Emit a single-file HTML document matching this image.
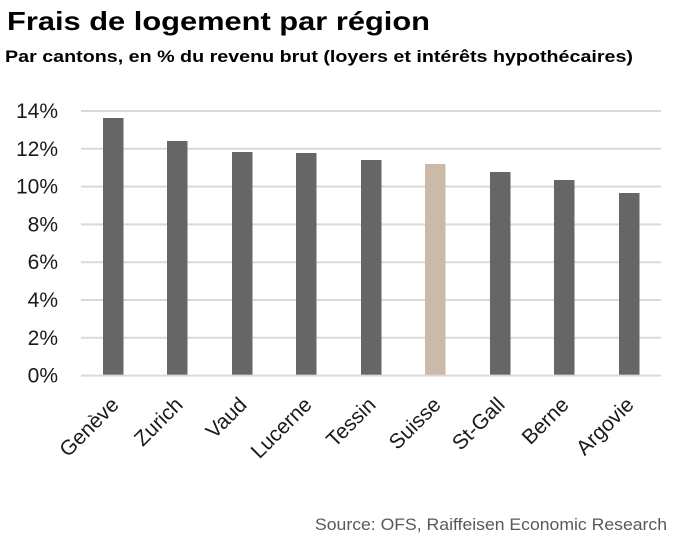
<!DOCTYPE html>
<html>
<head>
<meta charset="utf-8">
<style>
  html, body { margin: 0; padding: 0; background: #ffffff; }
  body { width: 673px; height: 536px; overflow: hidden; }
  svg { display: block; }
  text { font-family: "Liberation Sans", Arial, sans-serif; }
</style>
</head>
<body>
<svg width="673" height="536" viewBox="0 0 673 536" xmlns="http://www.w3.org/2000/svg">
  <rect x="0" y="0" width="673" height="536" fill="#ffffff"/>

  <!-- Title -->
  <text x="7" y="30" font-size="26" font-weight="bold" fill="#000" textLength="423" lengthAdjust="spacingAndGlyphs">Frais de logement par région</text>
  <!-- Subtitle -->
  <text x="5" y="62" font-size="17" font-weight="bold" fill="#000" textLength="628" lengthAdjust="spacingAndGlyphs">Par cantons, en % du revenu brut (loyers et intérêts hypothécaires)</text>

  <!-- Gridlines -->
  <g stroke="#d9d9d9" stroke-width="2">
    <line x1="81" y1="111" x2="661" y2="111"/>
    <line x1="81" y1="148.8" x2="661" y2="148.8"/>
    <line x1="81" y1="186.6" x2="661" y2="186.6"/>
    <line x1="81" y1="224.4" x2="661" y2="224.4"/>
    <line x1="81" y1="262.2" x2="661" y2="262.2"/>
    <line x1="81" y1="300" x2="661" y2="300"/>
    <line x1="81" y1="337.8" x2="661" y2="337.8"/>
  </g>

  <!-- Y labels -->
  <g font-size="21" fill="#1a1a1a" text-anchor="end">
    <text x="58" y="118">14%</text>
    <text x="58" y="155.8">12%</text>
    <text x="58" y="193.6">10%</text>
    <text x="58" y="231.4">8%</text>
    <text x="58" y="269.2">6%</text>
    <text x="58" y="307">4%</text>
    <text x="58" y="344.8">2%</text>
    <text x="58" y="382.6">0%</text>
  </g>

  <!-- Bars -->
  <g fill="#666666">
    <rect x="103" y="118" width="20.5" height="257.5"/>
    <rect x="167" y="141" width="20.5" height="234.5"/>
    <rect x="232" y="152" width="20.5" height="223.5"/>
    <rect x="296" y="153" width="20.5" height="222.5"/>
    <rect x="361" y="160" width="20.5" height="215.5"/>
    <rect x="490" y="172" width="20.5" height="203.5"/>
    <rect x="554" y="180" width="20.5" height="195.5"/>
    <rect x="619" y="193" width="20.5" height="182.5"/>
  </g>
  <rect x="425" y="164" width="20.5" height="211.5" fill="#cbbaa8"/>

  <!-- Axis line -->
  <line x1="81" y1="375.6" x2="661" y2="375.6" stroke="#d9d9d9" stroke-width="2"/>

  <!-- X labels -->
  <g font-size="21" fill="#1a1a1a" text-anchor="end">
    <text x="120" y="406" transform="rotate(-45 120 406)">Genève</text>
    <text x="184" y="406" transform="rotate(-45 184 406)">Zurich</text>
    <text x="248" y="406" transform="rotate(-45 248 406)">Vaud</text>
    <text x="313" y="406" transform="rotate(-45 313 406)">Lucerne</text>
    <text x="377" y="406" transform="rotate(-45 377 406)">Tessin</text>
    <text x="442" y="406" transform="rotate(-45 442 406)">Suisse</text>
    <text x="506" y="406" transform="rotate(-45 506 406)">St-Gall</text>
    <text x="570" y="406" transform="rotate(-45 570 406)">Berne</text>
    <text x="635" y="406" transform="rotate(-45 635 406)">Argovie</text>
  </g>

  <!-- Source -->
  <text x="315" y="530" font-size="17" fill="#595959" textLength="352" lengthAdjust="spacingAndGlyphs">Source: OFS, Raiffeisen Economic Research</text>
</svg>
</body>
</html>
